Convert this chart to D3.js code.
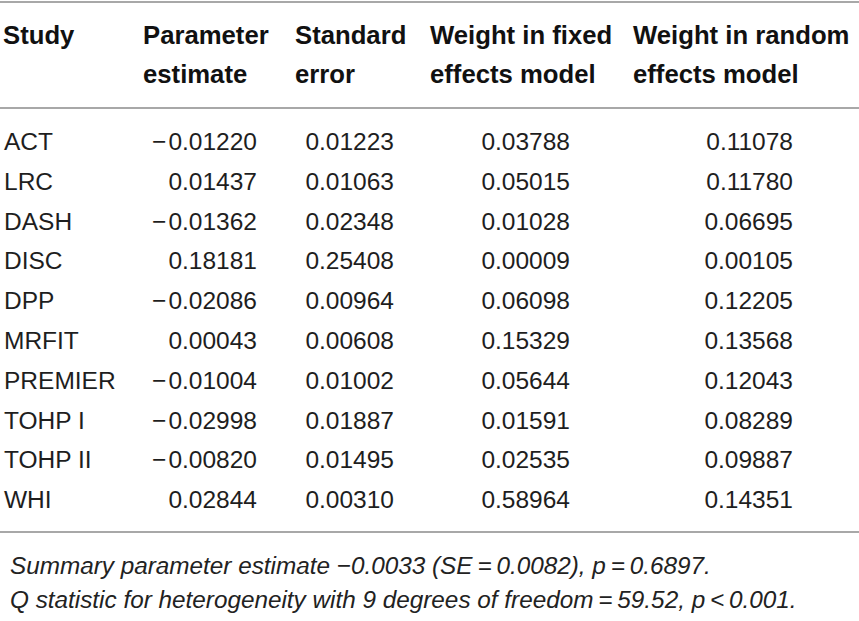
<!DOCTYPE html>
<html>
<head>
<meta charset="utf-8">
<script src="https://cdn.jsdelivr.net/npm/d3@7/dist/d3.min.js"></script>
<style>
  html, body { margin: 0; padding: 0; background: #fff; }
  svg { display: block; }
</style>
</head>
<body>
<svg id="chart" width="859" height="621"></svg>
<script>
// ---- data ----
const studies = ["ACT", "LRC", "DASH", "DISC", "DPP", "MRFIT", "PREMIER", "TOHP I", "TOHP II", "WHI"];
const estimates = [-0.01220, 0.01437, -0.01362, 0.18181, -0.02086, 0.00043, -0.01004, -0.02998, -0.00820, 0.02844];
const stdErrors = [0.01223, 0.01063, 0.02348, 0.25408, 0.00964, 0.00608, 0.01002, 0.01887, 0.01495, 0.00310];
const weightFixed = [0.03788, 0.05015, 0.01028, 0.00009, 0.06098, 0.15329, 0.05644, 0.01591, 0.02535, 0.58964];
const weightRandom = [0.11078, 0.11780, 0.06695, 0.00105, 0.12205, 0.13568, 0.12043, 0.08289, 0.09887, 0.14351];
const headers = [
  ["Study"],
  ["Parameter", "estimate"],
  ["Standard", "error"],
  ["Weight in fixed", "effects model"],
  ["Weight in random", "effects model"]
];
const footnotes = [
  "Summary parameter estimate \u22120.0033 (SE\u2009=\u20090.0082), p\u2009=\u20090.6897.",
  "Q statistic for heterogeneity with 9 degrees of freedom\u2009=\u200959.52, p\u2009<\u20090.001."
];

// ---- layout ----
const W = 859, H = 621;
const svg = d3.select("#chart");
const fmt5 = d3.format(".5f");
const fmt = d => fmt5(d).replace("\u2212", "\u2212\u200A");
const font = "'Liberation Sans', Arial, Helvetica, sans-serif";

const columns = [studies, estimates, stdErrors, weightFixed, weightRandom];
const headerX = [3, 143, 295, 430, 633];
const valueX   = [4, 257, 394, 570, 793];
const anchors  = ["start", "end", "end", "end", "end"];

// row baselines: ACT ~150 ... WHI ~508
const y = d3.scaleBand().domain(d3.range(studies.length)).range([130, 528]);

// rules
const rules = [2, 108, 532];
svg.selectAll("line.rule").data(rules).join("line")
  .attr("class", "rule")
  .attr("x1", 0).attr("x2", W)
  .attr("y1", d => d).attr("y2", d => d)
  .attr("stroke", "#a8a8a8").attr("stroke-width", 2);

// headers
const hg = svg.append("g");
headers.forEach((lines, ci) => {
  lines.forEach((txt, li) => {
    hg.append("text")
      .attr("x", headerX[ci])
      .attr("y", 44 + li * 38.5)
      .attr("font-family", font)
      .attr("font-weight", "bold")
      .attr("font-size", 25.7)
      .attr("fill", "#111")
      .text(txt);
  });
});

// body
const bg = svg.append("g");
columns.forEach((col, ci) => {
  bg.selectAll(null).data(col).join("text")
    .attr("x", valueX[ci])
    .attr("y", (d, i) => y(i) + y.bandwidth() / 2)
    .attr("text-anchor", anchors[ci])
    .attr("font-family", font)
    .attr("font-size", 24.5)
    .attr("fill", "#1e1e1e")
    .text(d => typeof d === "number" ? fmt(d) : d);
});

// footnotes
svg.selectAll("text.foot").data(footnotes).join("text")
  .attr("class", "foot")
  .attr("x", 10)
  .attr("y", (d, i) => 574 + i * 34)
  .attr("font-family", font)
  .attr("font-style", "italic")
  .attr("font-size", 24.3)
  .attr("fill", "#222")
  .text(d => d);
</script>
</body>
</html>
